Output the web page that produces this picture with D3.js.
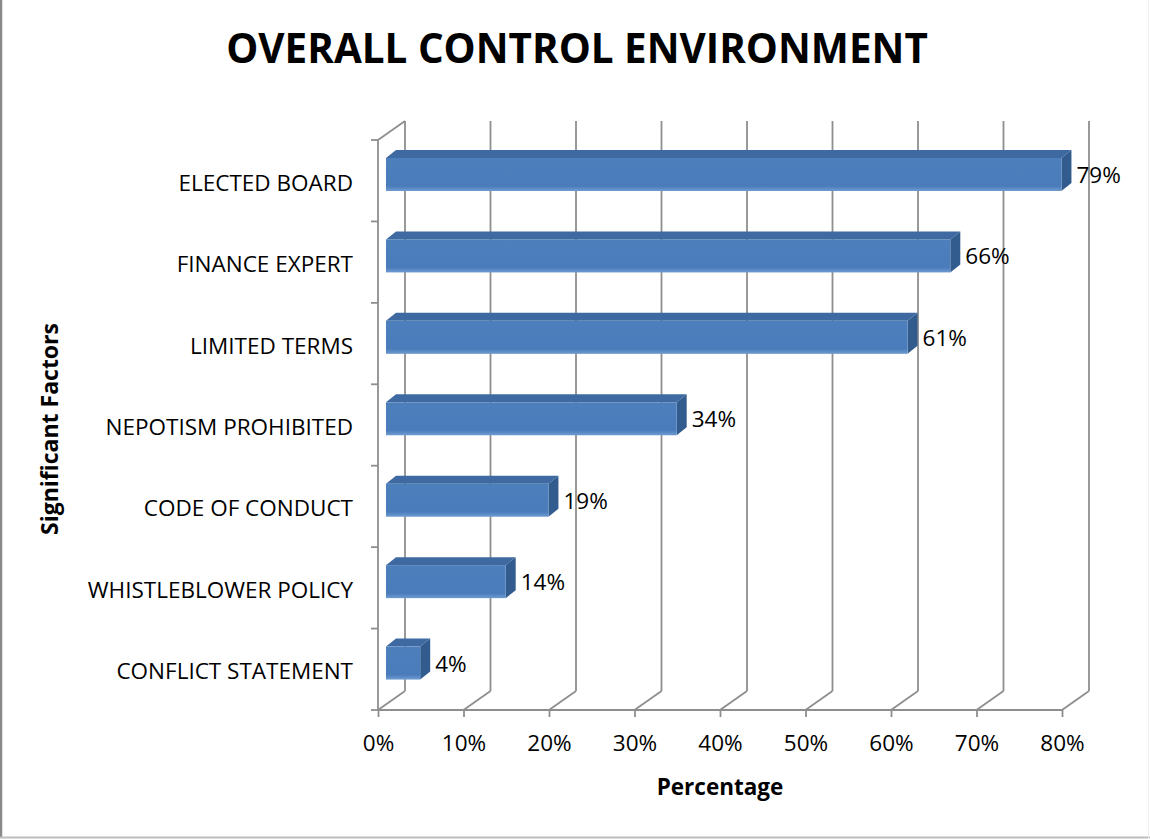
<!DOCTYPE html>
<html>
<head>
<meta charset="utf-8">
<script src="https://cdn.jsdelivr.net/npm/d3@7"></script>
<style>
  html, body { margin: 0; padding: 0; background: #fff; }
  svg { display: block; }
  text { font-family: "Open Sans", "Noto Sans", sans-serif; fill: #000; }
</style>
</head>
<body>
<svg id="chart" width="1150" height="839"></svg>
<script>
// Chart data
const categories = [
  "ELECTED BOARD",
  "FINANCE EXPERT",
  "LIMITED TERMS",
  "NEPOTISM PROHIBITED",
  "CODE OF CONDUCT",
  "WHISTLEBLOWER POLICY",
  "CONFLICT STATEMENT"
];
const percentages = [79, 66, 61, 34, 19, 14, 4];
const xTicks = [0, 10, 20, 30, 40, 50, 60, 70, 80];
const titleText = "OVERALL CONTROL ENVIRONMENT";
const xTitle = "Percentage";
const yTitle = "Significant Factors";

const svg = d3.select("#chart");
const W = 1150, H = 839;

// Plot frame (front plane) and oblique depth of the 3D box
const plot = { left: 378, right: 1062, top: 140, bottom: 710 };
const wallDepth = { dx: 27, dy: -19 };
const barShift = { dx: 8 };           // bars sit a little behind the front plane
const barDepth = { dx: 10, dy: -8 };  // thickness of each bar
const barInset = 18, barHeight = 33;
const labelSize = 22.5;
const gridColor = "#8e8e8e";

const x = d3.scaleLinear().domain([0, 80]).range([plot.left, plot.right]);
const y = d3.scaleBand().domain(categories).range([plot.top, plot.bottom]).paddingInner(0);

// Outer chart border
svg.append("line").attr("x1", 1).attr("x2", 1).attr("y1", 0).attr("y2", H - 1)
  .attr("stroke", "#8a8a8a").attr("stroke-width", 2.5);
svg.append("line").attr("x1", 0).attr("x2", W).attr("y1", 837.5).attr("y2", 837.5)
  .attr("stroke", "#bdbdbd").attr("stroke-width", 2);
svg.append("line").attr("x1", 1148.5).attr("x2", 1148.5).attr("y1", 0).attr("y2", H)
  .attr("stroke", "#f0f0f0").attr("stroke-width", 1);

// Title
svg.append("text")
  .attr("x", 577).attr("y", 63)
  .attr("text-anchor", "middle")
  .attr("font-weight", "bold")
  .attr("font-size", 40.4)
  .text(titleText);

const grid = svg.append("g").attr("fill", "none").attr("stroke", gridColor).attr("stroke-width", 1.8);
const backTop = plot.top + wallDepth.dy;
const backBottom = plot.bottom + wallDepth.dy;

// Back-wall gridlines and floor diagonals at each tick
xTicks.forEach(t => {
  const xf = x(t), xb = x(t) + wallDepth.dx;
  grid.append("line").attr("x1", xb).attr("x2", xb).attr("y1", backTop).attr("y2", backBottom);
  grid.append("line").attr("x1", xf).attr("x2", xb).attr("y1", plot.bottom).attr("y2", backBottom);
});

// Left wall edges
grid.append("line").attr("x1", plot.left).attr("x2", plot.left).attr("y1", plot.top).attr("y2", plot.bottom);
grid.append("line").attr("x1", plot.left).attr("x2", plot.left + wallDepth.dx)
  .attr("y1", plot.top).attr("y2", backTop);

// Front floor edge
grid.append("line").attr("x1", plot.left).attr("x2", plot.right).attr("y1", plot.bottom).attr("y2", plot.bottom);

// Category ticks on the left edge
const catBounds = categories.map(c => y(c)).concat([plot.bottom]);
catBounds.forEach(v => {
  grid.append("line").attr("x1", plot.left - 7).attr("x2", plot.left).attr("y1", v).attr("y2", v);
});

// Value axis ticks and labels
const xAxis = d3.axisBottom(x).tickValues(xTicks).tickFormat(d => d + "%").tickSize(7).tickPadding(18);
const axG = svg.append("g").attr("transform", `translate(0,${plot.bottom})`).call(xAxis);
axG.select(".domain").remove();
axG.selectAll(".tick line").attr("stroke", gridColor).attr("stroke-width", 1.8);
axG.selectAll(".tick text").attr("font-size", labelSize).attr("font-family", "Open Sans, sans-serif").attr("fill", "#000");

// Category labels
svg.append("g").selectAll("text").data(categories).join("text")
  .attr("x", 353)
  .attr("y", d => y(d) + y.bandwidth() / 2 + 10)
  .attr("text-anchor", "end")
  .attr("font-size", labelSize)
  .text(d => d);

// Gradients for the bar faces
const defs = svg.append("defs");
const gFront = defs.append("linearGradient").attr("id", "barFront").attr("x1", 0).attr("x2", 0).attr("y1", 0).attr("y2", 1);
gFront.append("stop").attr("offset", "0%").attr("stop-color", "#4d7fbd");
gFront.append("stop").attr("offset", "85%").attr("stop-color", "#4a7cbb");
gFront.append("stop").attr("offset", "100%").attr("stop-color", "#6f9bd1");

// Bars drawn as three faces
const bars = svg.append("g");
categories.forEach((c, i) => {
  const v = percentages[i];
  const x0 = x(0) + barShift.dx, x1 = x(v) + barShift.dx;
  const y0 = y(c) + barInset, y1 = y0 + barHeight;
  const dx = barDepth.dx, dy = barDepth.dy;
  // top face
  bars.append("path")
    .attr("d", `M${x0},${y0} L${x0 + dx},${y0 + dy} L${x1 + dx},${y0 + dy} L${x1},${y0} Z`)
    .attr("fill", "#3e6aa1");
  // side face
  bars.append("path")
    .attr("d", `M${x1},${y0} L${x1 + dx},${y0 + dy} L${x1 + dx},${y1 + dy} L${x1},${y1} Z`)
    .attr("fill", "#335c8e");
  // front face
  bars.append("rect")
    .attr("x", x0).attr("y", y0).attr("width", x1 - x0).attr("height", barHeight)
    .attr("fill", "url(#barFront)");
  // value label
  svg.append("text")
    .attr("x", x1 + dx + 5)
    .attr("y", y(c) + 43)
    .attr("font-size", labelSize)
    .text(v + "%");
});

// Axis titles
svg.append("text")
  .attr("x", 720).attr("y", 795)
  .attr("text-anchor", "middle")
  .attr("font-weight", "bold")
  .attr("font-size", 22.5)
  .text(xTitle);

svg.append("text")
  .attr("transform", "translate(58,429) rotate(-90)")
  .attr("text-anchor", "middle")
  .attr("font-weight", "bold")
  .attr("font-size", 23)
  .text(yTitle);
</script>
</body>
</html>
